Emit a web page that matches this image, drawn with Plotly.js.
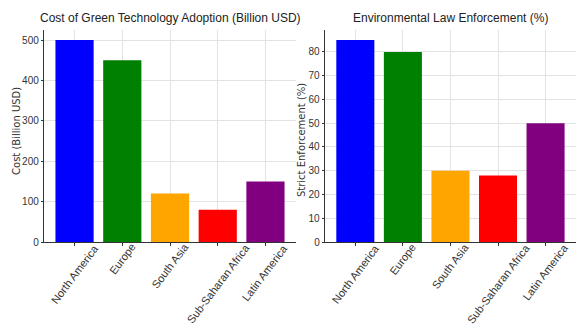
<!DOCTYPE html>
<html><head><meta charset="utf-8">
<script src="https://cdn.plot.ly/plotly-3.0.1.min.js"></script>
<style>html,body{margin:0;padding:0;background:#fff}#c{width:576px;height:326px}</style>
</head><body><div id="c"></div>
<script>
const regions = ["North America", "Europe", "South Asia", "Sub-Saharan Africa", "Latin America"];
const costValues = [500, 450, 120, 80, 150];
const enforcementValues = [85, 80, 30, 28, 50];
const barColors = ["blue", "green", "orange", "red", "purple"];
const costTicks = [0, 100, 200, 300, 400, 500];
const enfTicks = [0, 10, 20, 30, 40, 50, 60, 70, 80];

const F = "Liberation Sans, DejaVu Sans, sans-serif";
const traces = [
  {type:"bar", x:regions, y:costValues, marker:{color:barColors}, width:0.8, xaxis:"x", yaxis:"y", hoverinfo:"none"},
  {type:"bar", x:regions, y:enforcementValues, marker:{color:barColors}, width:0.8, xaxis:"x2", yaxis:"y2", hoverinfo:"none"}
];
const xa = (dom) => ({domain:dom, range:[-0.64, 4.64], showticklabels:false, showgrid:true, gridcolor:"#e3e3e3",
  showline:true, linecolor:"#333", linewidth:1.2, ticks:"outside", ticklen:3, tickcolor:"#333", zeroline:false});
const ya = (rng, ticks) => ({range:rng, tickvals:ticks, showgrid:true, gridcolor:"#e3e3e3",
  showline:true, linecolor:"#333", linewidth:1.2, ticks:"outside", ticklen:2, tickcolor:"#333",
  tickfont:{family:F, size:10, color:"#333"}, zeroline:false});
const annotations = [
  {text:"Cost of Green Technology Adoption (Billion USD)", xref:"x domain", yref:"paper", x:0.5, y:1.057, xanchor:"center", yanchor:"middle", showarrow:false, font:{family:F, size:12, color:"#222"}},
  {text:"Environmental Law Enforcement (%)", xref:"x2 domain", yref:"paper", x:0.5, y:1.057, xanchor:"center", yanchor:"middle", showarrow:false, font:{family:F, size:12, color:"#222"}},
  {text:"Cost (Billion USD)", xref:"paper", yref:"paper", x:-0.0508, y:0.5236, xanchor:"center", yanchor:"middle", textangle:-90, showarrow:false, font:{family:"DejaVu Sans, sans-serif", size:10, color:"#333"}},
  {text:"Strict Enforcement (%)", xref:"paper", yref:"paper", x:0.4831, y:0.481, xanchor:"center", yanchor:"middle", textangle:-90, showarrow:false, font:{family:"DejaVu Sans, sans-serif", size:10, color:"#333"}}
];
["x", "x2"].forEach(ax => regions.forEach(r => annotations.push({
  text:r, xref:ax, yref:"paper", x:r, y:0.015, xanchor:"center", yanchor:"top", textangle:-53,
  showarrow:false, font:{family:F, size:11, color:"#333"}
})));
const layout = {
  width:576, height:326, margin:{l:44, r:0, t:30, b:84}, showlegend:false,
  paper_bgcolor:"#fff", plot_bgcolor:"#fff",
  xaxis: xa([0, 0.4737]),
  xaxis2: Object.assign(xa([0.528, 1]), {anchor:"y2"}),
  yaxis: ya([0, 525], costTicks),
  yaxis2: Object.assign(ya([0, 89.25], enfTicks), {anchor:"x2"}),
  annotations: annotations
};
Plotly.newPlot("c", traces, layout, {displayModeBar:false, staticPlot:true});
</script></body></html>
